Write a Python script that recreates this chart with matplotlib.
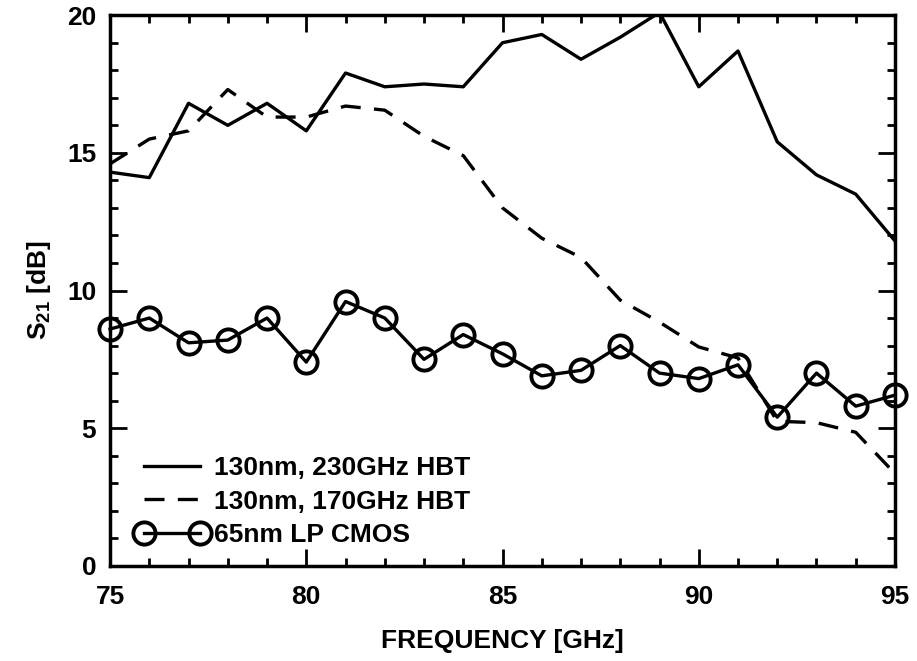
import matplotlib
matplotlib.use('Agg')
from matplotlib import pyplot as plt
from matplotlib.ticker import MultipleLocator

plt.rcParams['font.family'] = 'Liberation Sans'
plt.rcParams['font.weight'] = 'bold'
plt.rcParams['axes.labelweight'] = 'bold'
plt.rcParams['mathtext.fontset'] = 'custom'
plt.rcParams['mathtext.bf'] = 'Liberation Sans:bold'
plt.rcParams['mathtext.rm'] = 'Liberation Sans:bold'
plt.rcParams['mathtext.default'] = 'bf'

# частоты, ГГц
freq = [75, 76, 77, 78, 79, 80, 81, 82, 83, 84, 85,
        86, 87, 88, 89, 90, 91, 92, 93, 94, 95]

# S21, дБ
hbt_230 = [14.3, 14.1, 16.8, 16.0, 16.8, 15.8, 17.9, 17.4, 17.5, 17.4, 19.0,
           19.3, 18.4, 19.2, 20.1, 17.4, 18.7, 15.4, 14.2, 13.5, 11.8]
hbt_170 = [14.6, 15.5, 15.8, 17.3, 16.3, 16.3, 16.7, 16.55, 15.6, 14.9, 13.0,
           11.9, 11.2, 9.65, 8.85, 7.95, 7.55, 5.25, 5.2, 4.85, 3.35]
cmos_65 = [8.6, 9.0, 8.1, 8.2, 9.0, 7.4, 9.6, 9.0, 7.5, 8.4, 7.7,
           6.9, 7.1, 8.0, 7.0, 6.8, 7.3, 5.4, 7.0, 5.8, 6.2]

fig = plt.figure(figsize=(9.17, 6.61), dpi=100)
ax = fig.add_axes([0.12, 0.144, 0.856, 0.833])

ax.plot(freq, hbt_230, color='black', lw=2.4, label='130nm, 230GHz HBT')
ax.plot(freq, hbt_170, color='black', lw=2.4, dashes=(6, 4), label='130nm, 170GHz HBT')
ax.plot(freq, cmos_65, color='black', lw=2.4, marker='o', ms=16, mfc='none', mew=2.8,
        label='65nm LP CMOS', clip_on=False, zorder=5)

ax.set_xlim(75, 95)
ax.set_ylim(0, 20)
ax.xaxis.set_major_locator(MultipleLocator(5))
ax.xaxis.set_minor_locator(MultipleLocator(1))
ax.yaxis.set_major_locator(MultipleLocator(5))
ax.yaxis.set_minor_locator(MultipleLocator(1))
ax.tick_params(which='both', direction='in', top=True, right=True, width=2)
ax.tick_params(which='major', length=12, labelsize=19, pad=10)
ax.tick_params(axis='x', which='major', pad=14)
ax.tick_params(which='minor', length=6)
for s in ax.spines.values():
    s.set_linewidth(2.5)

ax.set_xlabel('FREQUENCY [GHz]', fontsize=19, labelpad=14)
ax.set_ylabel('S$_{21}$ [dB]', fontsize=19, labelpad=10)

ax.legend(loc='lower left', frameon=False, fontsize=19, handlelength=2.7,
          numpoints=2, handletextpad=0.25, labelspacing=0.36,
          bbox_to_anchor=(0.02, 0.015), borderaxespad=0.0)

plt.savefig('out.png', dpi=100)
